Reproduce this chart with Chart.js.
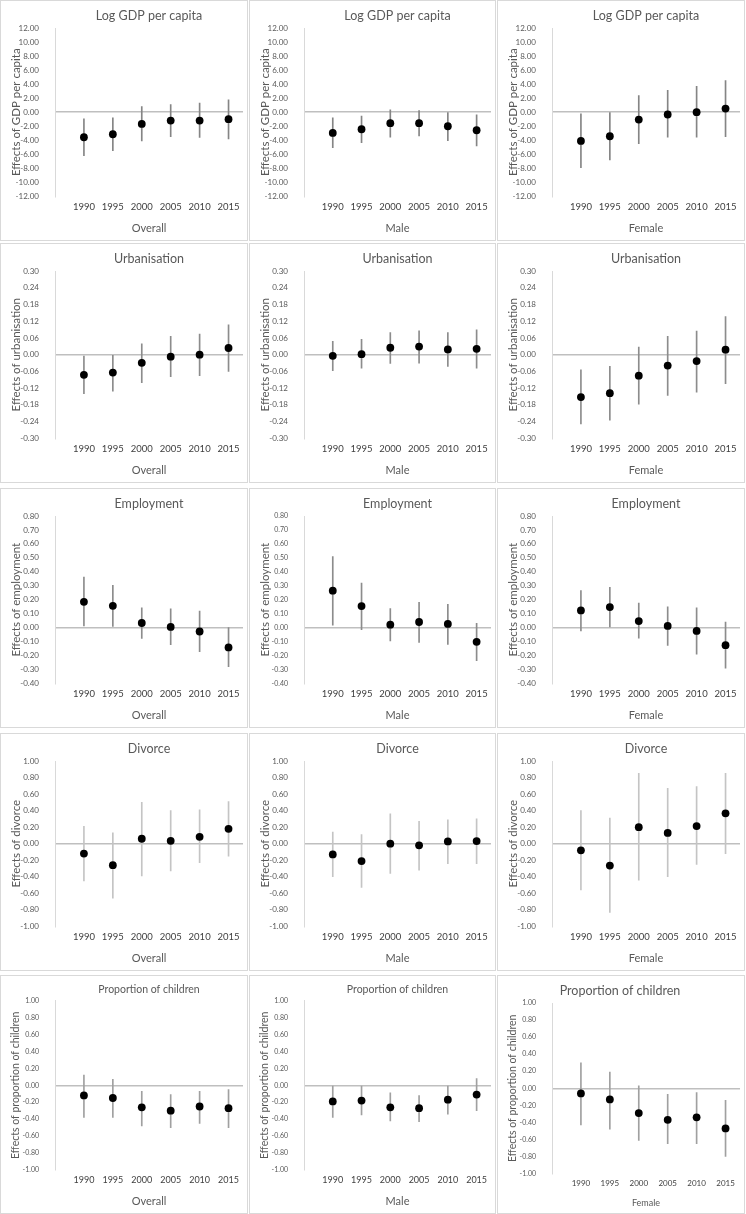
<!DOCTYPE html>
<html>
<head>
<meta charset="utf-8">
<script src="https://cdn.jsdelivr.net/npm/chart.js@4.4.1/dist/chart.umd.min.js"></script>
<style>
  html, body { margin: 0; padding: 0; background: #fff; }
  #grid { position: relative; width: 746px; height: 1214px; }
  .panel { position: absolute; box-sizing: border-box; border: 1px solid #d9d9d9; background: #fff; }
  .panel canvas { display: block; }
</style>
</head>
<body>
<div id="grid"></div>
<script>
const years = ["1990", "1995", "2000", "2005", "2010", "2015"];

// Log GDP per capita
const gdpOverallPt = [-3.57, -3.14, -1.67, -1.19, -1.19, -1.00];
const gdpOverallHi = [-0.95, -0.80, 0.80, 1.10, 1.30, 1.76];
const gdpOverallLo = [-6.20, -5.50, -4.10, -3.50, -3.60, -3.80];
const gdpMalePt = [-2.95, -2.43, -1.57, -1.57, -2.00, -2.57];
const gdpMaleHi = [-0.80, -0.57, 0.33, 0.24, -0.05, -0.38];
const gdpMaleLo = [-5.05, -4.33, -3.57, -3.38, -4.05, -4.80];
const gdpFemalePt = [-4.10, -3.43, -1.05, -0.33, 0.00, 0.52];
const gdpFemaleHi = [-0.24, -0.05, 2.38, 3.10, 3.67, 4.50];
const gdpFemaleLo = [-7.90, -6.80, -4.50, -3.57, -3.57, -3.48];

// Urbanisation
const urbOverallPt = [-0.072, -0.064, -0.029, -0.007, 0.000, 0.024];
const urbOverallHi = [-0.005, 0.000, 0.039, 0.066, 0.074, 0.107];
const urbOverallLo = [-0.140, -0.131, -0.100, -0.079, -0.075, -0.060];
const urbMalePt = [-0.004, 0.002, 0.025, 0.029, 0.019, 0.021];
const urbMaleHi = [0.048, 0.055, 0.079, 0.086, 0.079, 0.089];
const urbMaleLo = [-0.057, -0.048, -0.031, -0.030, -0.042, -0.048];
const urbFemalePt = [-0.152, -0.138, -0.075, -0.039, -0.023, 0.018];
const urbFemaleHi = [-0.054, -0.042, 0.027, 0.066, 0.085, 0.137];
const urbFemaleLo = [-0.248, -0.235, -0.177, -0.146, -0.134, -0.104];

// Employment
const empOverallPt = [0.185, 0.156, 0.033, 0.005, -0.028, -0.142];
const empOverallHi = [0.363, 0.303, 0.142, 0.135, 0.118, 0.000];
const empOverallLo = [0.012, 0.009, -0.078, -0.123, -0.173, -0.280];
const empMalePt = [0.265, 0.154, 0.021, 0.040, 0.026, -0.102];
const empMaleHi = [0.510, 0.320, 0.137, 0.182, 0.166, 0.031];
const empMaleLo = [0.017, -0.014, -0.095, -0.107, -0.120, -0.237];
const empFemalePt = [0.123, 0.147, 0.047, 0.012, -0.024, -0.126];
const empFemaleHi = [0.265, 0.289, 0.175, 0.149, 0.142, 0.040];
const empFemaleLo = [-0.024, 0.005, -0.076, -0.128, -0.190, -0.290];

// Divorce
const divOverallPt = [-0.12, -0.26, 0.06, 0.035, 0.083, 0.18];
const divOverallHi = [0.21, 0.13, 0.50, 0.40, 0.41, 0.51];
const divOverallLo = [-0.45, -0.66, -0.39, -0.33, -0.23, -0.15];
const divMalePt = [-0.13, -0.21, 0.00, -0.02, 0.028, 0.032];
const divMaleHi = [0.14, 0.11, 0.36, 0.27, 0.29, 0.30];
const divMaleLo = [-0.40, -0.53, -0.36, -0.32, -0.24, -0.24];
const divFemalePt = [-0.08, -0.265, 0.20, 0.13, 0.213, 0.367];
const divFemaleHi = [0.40, 0.31, 0.85, 0.67, 0.69, 0.85];
const divFemaleLo = [-0.56, -0.83, -0.44, -0.40, -0.25, -0.12];

// Proportion of children
const kidOverallPt = [-0.12, -0.15, -0.26, -0.30, -0.25, -0.27];
const kidOverallHi = [0.12, 0.07, -0.07, -0.11, -0.07, -0.05];
const kidOverallLo = [-0.38, -0.38, -0.48, -0.50, -0.45, -0.50];
const kidMalePt = [-0.19, -0.18, -0.26, -0.27, -0.17, -0.11];
const kidMaleHi = [0.00, 0.00, -0.09, -0.12, 0.00, 0.08];
const kidMaleLo = [-0.38, -0.35, -0.42, -0.43, -0.34, -0.30];
const kidFemalePt = [-0.06, -0.13, -0.29, -0.37, -0.34, -0.47];
const kidFemaleHi = [0.30, 0.19, 0.03, -0.07, -0.05, -0.14];
const kidFemaleLo = [-0.43, -0.48, -0.61, -0.65, -0.65, -0.80];

const groups = ["Overall", "Male", "Female"];

const rows = [
  { title: "Log GDP per capita", yTitle: "Effects of GDP per capita", min: -12, max: 12, step: 2, err: "#858585",
    series: [[gdpOverallPt, gdpOverallHi, gdpOverallLo], [gdpMalePt, gdpMaleHi, gdpMaleLo], [gdpFemalePt, gdpFemaleHi, gdpFemaleLo]] },
  { title: "Urbanisation", yTitle: "Effects of urbanisation", min: -0.3, max: 0.3, step: 0.06, err: "#8c8c8c",
    series: [[urbOverallPt, urbOverallHi, urbOverallLo], [urbMalePt, urbMaleHi, urbMaleLo], [urbFemalePt, urbFemaleHi, urbFemaleLo]] },
  { title: "Employment", yTitle: "Effects of employment", min: -0.4, max: 0.8, step: 0.1, err: "#8c8c8c",
    series: [[empOverallPt, empOverallHi, empOverallLo], [empMalePt, empMaleHi, empMaleLo], [empFemalePt, empFemaleHi, empFemaleLo]] },
  { title: "Divorce", yTitle: "Effects of divorce", min: -1, max: 1, step: 0.2, err: "#c4c4c4",
    series: [[divOverallPt, divOverallHi, divOverallLo], [divMalePt, divMaleHi, divMaleLo], [divFemalePt, divFemaleHi, divFemaleLo]] },
  { title: "Proportion of children", yTitle: "Effects of proportion of children", min: -1, max: 1, step: 0.2, err: "#a0a0a0", small: true,
    series: [[kidOverallPt, kidOverallHi, kidOverallLo], [kidMalePt, kidMaleHi, kidMaleLo], [kidFemalePt, kidFemaleHi, kidFemaleLo]] },
];

const colX = [0, 249, 497];
const colW = [248, 247, 248];
const rowY = [0, 243, 488, 733, 975];
const rowH = [241, 240, 240, 238, 239];

const FONT = "Lato, 'Open Sans', sans-serif";
const grid = document.getElementById("grid");

function makePanel(r, c) {
  const row = rows[r];
  const [pt, hi, lo] = row.series[c];
  const div = document.createElement("div");
  div.className = "panel";
  div.style.left = colX[c] + "px";
  div.style.top = rowY[r] + "px";
  div.style.width = colW[c] + "px";
  div.style.height = rowH[r] + "px";
  const canvas = document.createElement("canvas");
  canvas.width = colW[c] - 2;
  canvas.height = rowH[r] - 2;
  div.appendChild(canvas);
  grid.appendChild(div);

  const small = !!row.small;
  // last panel has its title centred on the whole panel, like the original
  const panelTitle = small && c === 2;
  const tickSize = small ? 7 : (r === 2 && c === 1 ? 7 : 8);
  const titleSize = small ? (c === 2 ? 12.5 : 10.5) : 12.5;
  const yTitleSize = small ? 10.5 : 11.5;
  const xTitleSize = small && c === 2 ? 9 : 11;
  const xTickSize = small ? (c === 2 ? 8 : 9) : 9.5;
  const titleFont = { family: FONT, size: titleSize, weight: "normal" };
  const titlePad = { top: 7, bottom: 5 };

  new Chart(canvas, {
    type: "scatter",
    data: {
      datasets: [
        {
          type: "scatter",
          data: pt.map((v, i) => ({ x: i + 1, y: v })),
          backgroundColor: "#000",
          borderWidth: 0,
          pointRadius: 3.9,
          order: 1,
        },
        {
          type: "bar",
          data: hi.map((v, i) => ({ x: i + 1, y: [lo[i], v] })),
          backgroundColor: row.err,
          borderWidth: 0,
          barThickness: 1,
          order: 2,
        },
      ],
    },
    options: {
      responsive: false,
      animation: false,
      devicePixelRatio: 1,
      events: [],
      layout: { padding: { left: 0, right: 2, top: 0, bottom: 1 } },
      plugins: {
        legend: { display: false },
        tooltip: { enabled: false },
        title: {
          display: panelTitle,
          text: row.title,
          color: "#595959",
          font: titleFont,
          padding: titlePad,
        },
      },
      scales: {
        x: {
          type: "linear",
          min: 0,
          max: 6.5,
          offset: false,
          grid: { display: false, drawTicks: false },
          border: { display: false },
          afterBuildTicks: (s) => { s.ticks = years.map((_, i) => ({ value: i + 1 })); },
          ticks: {
            autoSkip: false,
            maxRotation: 0,
            padding: 5,
            color: "#404040",
            font: { family: FONT, size: xTickSize },
            callback: (v) => years[v - 1] || "",
          },
          title: {
            display: true,
            text: groups[c],
            color: "#595959",
            font: { family: FONT, size: xTitleSize },
            padding: { top: 4, bottom: 4 },
          },
        },
        top: {
          type: "linear",
          position: "top",
          display: !panelTitle,
          min: 0,
          max: 6.5,
          grid: { display: false, drawTicks: false },
          border: { display: false },
          ticks: { display: false },
          title: {
            display: true,
            text: row.title,
            color: "#595959",
            font: titleFont,
            padding: titlePad,
          },
        },
        y: {
          min: row.min,
          max: row.max,
          afterFit: (s) => { s.width = 54; },
          grid: {
            drawTicks: false,
            color: (ctx) => (ctx.tick && Math.abs(ctx.tick.value) < 1e-9 ? "#bfbfbf" : "rgba(0,0,0,0)"),
            lineWidth: 1.5,
          },
          border: { display: true, color: "#d9d9d9", width: 1 },
          ticks: {
            stepSize: row.step,
            padding: 16,
            color: "#595959",
            font: { family: FONT, size: tickSize },
            callback: (v) => (Math.abs(v) < 1e-9 ? 0 : v).toFixed(2),
          },
          title: {
            display: true,
            text: row.yTitle,
            color: "#595959",
            font: { family: FONT, size: yTitleSize },
            padding: { top: 8, bottom: 0 },
          },
        },
      },
    },
  });
}

for (let r = 0; r < rows.length; r++) {
  for (let c = 0; c < 3; c++) makePanel(r, c);
}
</script>
</body>
</html>
